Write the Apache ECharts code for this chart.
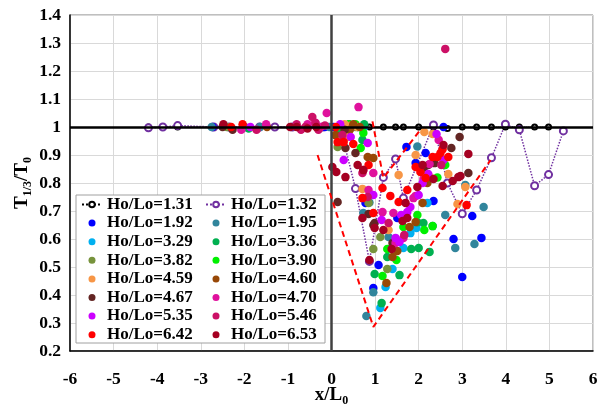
<!DOCTYPE html>
<html lang="en">
<head>
	<meta charset="UTF-8">
	<title>T1/3/T0 vs x/L0</title>
	<style>
	body, div {
		margin: 0;
		padding: 0;
	}
	#echart {
		width: 603px;
		height: 404px;
	}
	</style>
</head>
<body>
	<div id="echart"></div>

	<script src="https://cdn.jsdelivr.net/npm/echarts@6/dist/echarts.min.js"></script>

	<script>
	// 数据 (x/L0, T1/3/T0)
	// ---------------------------------------------------------------
	var line131 = [[-4.2,1],[-3.87,1],[-3.53,1],[-2.7,1],[-2.35,1],[-2.0,1],[-1.65,1],[-1.3,1],[-0.9,1],
		[-0.55,1],[-0.2,1],[0.2,1],[0.55,1],[0.87,1],[1.19,1],[1.47,1],[1.65,1],[2.0,1],[2.34,1],
		[2.66,0.995],[3.0,1],[3.33,1],[3.67,1],[3.99,1],[4.31,1],[4.66,1],[4.98,1]];
	var line132 = [[-4.2,0.997],[-3.87,1.0],[-3.53,1.005],[-2.7,1.0],[-2.35,1.0],[-2.0,1.0],[-1.65,1.0],
		[-1.3,1.0],[-0.9,1.0],[-0.55,1.0],[-0.2,1.0],[0.2,1.0],[0.55,0.78],[0.87,0.52],[1.19,0.82],
		[1.47,0.886],[1.65,0.746],[2.34,1.007],[2.66,0.80],[3.0,0.69],[3.33,0.775],[3.67,0.89],
		[3.99,1.01],[4.31,0.99],[4.66,0.79],[4.98,0.83],[5.32,0.986]];

	var hl192 = [[-2.73,1.0],[0.25,1.005],[1.72,0.929],[2.16,0.907],[2.57,1.0],[1.93,0.871],[0.78,0.729],
		[1.51,0.675],[2.34,0.736],[1.08,0.507],[0.96,0.425],[2.8,0.6],[3.44,0.604],[3.0,0.464],[3.23,0.682],
		[0.05,1.0],[-0.15,1.0]];
	var hl195 = [[-2.75,1.0],[-1.64,1.0],[0.4,1.01],[1.97,0.93],[0.87,0.73],[2.61,0.686],[3.07,0.793],
		[3.49,0.714],[1.31,0.607],[0.96,0.41],[0.8,0.325],[2.84,0.568],[3.28,0.582],[2.32,0.646],[0.73,0.693],
		[0.6,1.0],[-0.05,1.0]];
	var hl329 = [[0.18,1.0],[0.6,1.0],[1.65,0.568],[1.4,0.493],[1.24,0.429],[1.12,0.354],[1.81,0.621],
		[1.95,0.639],[2.2,0.729],[0.5,1.005],[0.35,0.99],[0.75,1.0]];
	var hl336 = [[-1.9,0.995],[0.45,1.0],[0.71,0.954],[1.83,0.564],[2.0,0.568],[2.25,0.554],[0.99,0.475],
		[1.56,0.471],[1.15,0.371],[2.11,0.657],[1.28,0.536],[1.97,0.66],[0.75,1.01],[0.2,0.99]];
	var hl382 = [[-2.4,1.0],[0.35,1.0],[0.14,0.929],[0.96,0.564],[1.12,0.607],[1.28,0.493],[0.85,0.729],
		[2.09,0.846],[0.55,1.0]];
	var hl390 = [[0.55,1.01],[1.97,0.686],[1.65,0.643],[2.13,0.632],[2.32,0.646],[1.28,0.564],[1.49,0.525],
		[1.17,0.468],[2.43,0.82],[2.61,0.864],[0.67,0.925],[0.73,0.979],[0.4,1.01],[0.25,1.0]];
	var hl459 = [[0.6,1.0],[0.37,0.964],[2.13,0.982],[2.32,0.975],[1.93,0.9],[2.68,0.832],[3.07,0.786],
		[2.89,0.725],[0.71,0.779],[1.54,0.829],[1.31,0.632],[2.27,0.82],[0.45,1.005],[0.3,1.01]];
	var hl460 = [[-1.48,1.0],[0.5,1.01],[0.96,0.889],[0.83,0.893],[0.09,0.971],[2.2,0.8],[1.79,0.643],
		[1.93,0.661],[1.51,0.557],[1.4,0.536],[1.26,0.443],[2.09,0.729],[0.65,1.0],[0.42,0.99]];
	var hl467 = [[-2.27,0.99],[-2.5,1.0],[0.3,0.99],[0.14,0.732],[0.32,0.925],[0.55,0.907],[0.85,0.689],
		[0.99,0.657],[1.4,0.586],[2.36,0.871],[2.13,0.857],[2.75,0.925],[2.94,0.964],[3.14,0.836],
		[2.22,0.864],[0.96,0.65]];
	var hl470 = [[-2.07,0.99],[-1.5,1.01],[-0.37,1.015],[0.62,1.071],[-0.11,1.05],[2.46,0.954],[2.25,0.868],
		[2.11,0.814],[1.93,0.754],[1.88,0.746],[1.65,0.604],[1.17,0.696],[0.85,0.775],[0.73,0.846],
		[1.42,0.693],[1.47,0.586],[0.96,0.836],[-0.55,1.01],[-0.25,1.0]];
	var hl535 = [[-1.86,1.0],[0.2,1.01],[0.28,0.882],[0.83,0.943],[0.44,0.964],[0.96,0.757],[2.41,0.975],
		[2.57,0.882],[2.22,0.832],[2.09,0.8],[2.0,0.757],[1.81,0.714],[1.6,0.686],[1.74,0.696],
		[1.47,0.604],[1.56,0.589],[1.15,0.668]];
	var hl546 = [[-1.72,0.99],[-0.6,1.0],[2.61,1.279],[-0.44,1.036],[-0.37,1.014],[-0.3,0.99],[0.25,0.971],
		[0.71,0.836],[0.83,0.75],[1.31,0.657],[1.67,0.614],[2.52,0.864],[-0.8,1.01],[-0.7,0.99],[-0.15,1.005]];
	var hl642 = [[-2.04,1.01],[-2.3,1.0],[0.1,1.0],[0.14,0.946],[0.28,0.946],[0.5,0.939],[0.85,0.864],
		[0.71,0.746],[1.17,0.782],[1.35,0.754],[0.96,0.693],[1.54,0.732],[1.74,0.775],[1.93,0.857],
		[2.04,0.839],[2.16,0.818],[2.32,0.893],[2.43,0.893],[2.5,0.907],[2.55,0.921],[2.68,0.893],[3.1,0.721]];
	var hl653 = [[-2.48,1.01],[-0.55,0.995],[-0.8,1.0],[0.02,0.857],[0.11,0.839],[0.32,0.821],[0.6,0.864],
		[0.73,0.846],[0.71,0.675],[0.99,0.639],[1.19,0.632],[0.87,0.525],[1.38,0.564],[1.63,0.664],
		[1.74,0.675],[1.7,0.729],[1.97,0.786],[2.34,0.814],[2.55,0.789],[2.78,0.807],[2.96,0.825],
		[3.14,0.904],[2.57,0.936],[2.09,0.864],[2.91,0.821],[-0.35,1.0],[-0.95,1.0]];

	// 包络虚线
	var envelopeA = [[-0.32,0.90],[0.96,0.286],[3.65,0.882]];
	var envelopeB = [[0.94,1.02],[1.19,0.818],[2.04,0.99]];

	var scatterNames = ['Ho/Lo=1.92','Ho/Lo=1.95','Ho/Lo=3.29','Ho/Lo=3.36','Ho/Lo=3.82','Ho/Lo=3.90',
		'Ho/Lo=4.59','Ho/Lo=4.60','Ho/Lo=4.67','Ho/Lo=4.70','Ho/Lo=5.35','Ho/Lo=5.46','Ho/Lo=6.42','Ho/Lo=6.53'];
	var scatterData = [hl192, hl195, hl329, hl336, hl382, hl390, hl459, hl460, hl467, hl470, hl535, hl546, hl642, hl653];
	var scatterColors = ['#0000FF','#31859C','#00B0F0','#00B050','#77933C','#00F000',
		'#F79646','#984807','#632523','#E0119D','#CC00FF','#CC1066','#FF0000','#A50021'];

	var xTicks = [-6, 6, 1];
	var yTicks = [0.2, 1.4, 0.1];

	// ---------------------------------------------------------------
	var font = 'Liberation Serif';
	var myEchart = echarts.init(document.getElementById('echart'));

	var series = [
		{
			name: 'Ho/Lo=1.31',
			type: 'line',
			data: line131,
			symbol: 'emptyCircle',
			symbolSize: 5,
			itemStyle: { color: '#000', borderWidth: 1 },
			lineStyle: { color: '#000', width: 1, type: 'dotted' },
			z: 3
		},
		{
			name: 'Ho/Lo=1.32',
			type: 'line',
			data: line132,
			symbol: 'emptyCircle',
			symbolSize: 7,
			itemStyle: { color: '#7030A0', borderWidth: 1 },
			lineStyle: { color: '#7030A0', width: 1.5, type: 'dotted' },
			z: 3
		}
	];
	scatterNames.forEach(function (n, i) {
		series.push({
			name: n,
			type: 'scatter',
			data: scatterData[i],
			symbolSize: 8.5,
			itemStyle: { color: scatterColors[i], opacity: 1 },
			z: 4
		});
	});
	[envelopeA, envelopeB].forEach(function (d) {
		series.push({
			type: 'line',
			data: d,
			symbol: 'none',
			silent: true,
			lineStyle: { color: '#FF0000', width: 2, type: [6, 4] },
			z: 5
		});
	});
	// 坐标中心线 x=0, y=1
	series.push({
		type: 'line',
		data: [],
		silent: true,
		z: 6,
		markLine: {
			silent: true,
			symbol: 'none',
			label: { show: false },
			animation: false,
			data: [
				{ yAxis: 1, lineStyle: { color: '#000', width: 2.5, type: 'solid' } },
				{ xAxis: 0, lineStyle: { color: '#404040', width: 2.5, type: 'solid' } }
			]
		}
	});

	var labelStyle = { fontFamily: font, fontWeight: 'bold', fontSize: 17.5, color: '#000' };
	var col1 = ['Ho/Lo=1.31','Ho/Lo=1.92','Ho/Lo=3.29','Ho/Lo=3.82','Ho/Lo=4.59','Ho/Lo=4.67','Ho/Lo=5.35','Ho/Lo=6.42'];
	var col2 = ['Ho/Lo=1.32','Ho/Lo=1.95','Ho/Lo=3.36','Ho/Lo=3.90','Ho/Lo=4.60','Ho/Lo=4.70','Ho/Lo=5.46','Ho/Lo=6.53'];
	function legendAt(left, names) {
		return {
			data: names,
			orient: 'vertical',
			left: left,
			top: 196,
			padding: 0,
			itemGap: 1.6,
			itemWidth: 20,
			itemHeight: 7,
			itemStyle: { borderWidth: 0 },
			selectedMode: false,
			z: 10,
			textStyle: { fontFamily: font, fontWeight: 'bold', fontSize: 17, color: '#000', padding: [0, 0, 0, 0] }
		};
	}
	var nameRich = {
		t: { fontFamily: font, fontWeight: 'bold', fontSize: 19, color: '#000', lineHeight: 24 },
		s: { fontFamily: font, fontWeight: 'bold', fontSize: 12, color: '#000', lineHeight: 14, verticalAlign: 'bottom' }
	};

	var option = {
		animation: false,
		backgroundColor: '#fff',
		grid: {
			left: 70,
			right: 10,
			top: 15,
			bottom: 53,
			outerBoundsMode: 'none',
			containLabel: false,
			show: true,
			borderColor: '#7f7f7f',
			borderWidth: 1
		},
		graphic: [{
			type: 'rect',
			z: 8,
			shape: { x: 76, y: 195, width: 249, height: 148 },
			style: { fill: '#fff', stroke: '#a0a0a0', lineWidth: 1 }
		}],
		legend: [legendAt(81, col1), legendAt(205, col2)],
		xAxis: {
			type: 'value',
			min: xTicks[0],
			max: xTicks[1],
			interval: xTicks[2],
			name: '{t|x/L}{s|0}',
			nameLocation: 'middle',
			nameGap: 32,
			nameMoveOverlap: false,
			nameTextStyle: { rich: nameRich },
			axisLine: { onZero: false, lineStyle: { color: '#000', width: 1.5 } },
			axisTick: { show: false },
			axisLabel: Object.assign({ margin: 19 }, labelStyle),
			splitLine: { show: true, lineStyle: { color: '#d9d9d9', width: 1 } }
		},
		yAxis: {
			type: 'value',
			min: yTicks[0],
			max: yTicks[1],
			interval: yTicks[2],
			name: '{t|T}{s|1/3}{t|/T}{s|0}',
			nameLocation: 'middle',
			nameRotate: 90,
			nameGap: 36,
			nameMoveOverlap: false,
			nameTextStyle: { rich: nameRich },
			axisLine: { onZero: false, lineStyle: { color: '#000', width: 1.5 } },
			axisTick: { show: false },
			axisLabel: Object.assign({ margin: 9 }, labelStyle),
			splitLine: { show: true, lineStyle: { color: '#d9d9d9', width: 1 } }
		},
		series: series
	};

	myEchart.setOption(option);
	</script>
</body>
</html>
